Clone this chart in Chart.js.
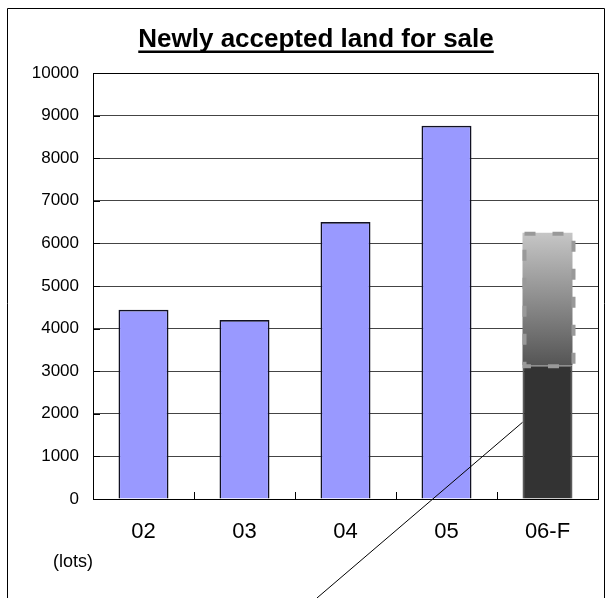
<!DOCTYPE html>
<html lang="en">
<head>
<meta charset="UTF-8">
<title>Newly accepted land for sale</title>
<script src="https://cdn.jsdelivr.net/npm/chart.js"></script>
<style>
    body { margin: 0; background: #fff; }
    .wrap { position: relative; width: 613px; height: 598px; }
</style>
</head>
<body>
<div class="wrap"><canvas id="landChart" width="613" height="598"></canvas></div>
<script>
const years = ['02', '03', '04', '05', '06-F'];
const actualLots = [4440, 4200, 6500, 8760, 3140];
const forecastLots = [0, 0, 0, 0, 3110];
const yMax = 10000;
const yStep = 1000;

const FONT = "Arial, 'Liberation Sans', sans-serif";

// frame, title, inward ticks, forecast outline and callout line
const decorations = {
    id: 'decorations',
    afterDraw(chart) {
        const { ctx, chartArea: a, scales: { x, y } } = chart;
        ctx.save();

        // outer frame (open at the bottom)
        ctx.strokeStyle = '#000';
        ctx.lineWidth = 1;
        ctx.beginPath();
        ctx.moveTo(7.5, 598);
        ctx.lineTo(7.5, 8.5);
        ctx.lineTo(604.5, 8.5);
        ctx.lineTo(604.5, 598);
        ctx.stroke();

        // right side of plot box
        ctx.beginPath();
        ctx.moveTo(Math.round(a.right) + 0.5, a.top);
        ctx.lineTo(Math.round(a.right) + 0.5, a.bottom);
        ctx.stroke();

        // title with underline
        const title = 'Newly accepted land for sale';
        ctx.font = 'bold 26px ' + FONT;
        ctx.fillStyle = '#000';
        ctx.textAlign = 'center';
        ctx.textBaseline = 'alphabetic';
        ctx.fillText(title, 316, 47);
        const tw = ctx.measureText(title).width;
        ctx.fillRect(316 - tw / 2, 50.5, tw, 2.5);

        // unit label
        ctx.font = '18px ' + FONT;
        ctx.textAlign = 'left';
        ctx.textBaseline = 'middle';
        ctx.fillText('(lots)', 53, 562);

        // inward tick marks
        ctx.beginPath();
        for (let v = yStep; v < yMax; v += yStep) {
            const py = Math.round(y.getPixelForValue(v)) + 0.5;
            ctx.moveTo(a.left, py);
            ctx.lineTo(a.left + 7, py);
        }
        for (let i = 0; i < years.length - 1; i++) {
            const px = Math.round((x.getPixelForValue(i) + x.getPixelForValue(i + 1)) / 2) + 0.5;
            ctx.moveTo(px, a.bottom);
            ctx.lineTo(px, a.bottom - 7);
        }
        ctx.stroke();

        // dashed outline around the forecast part
        const bar = chart.getDatasetMeta(1).data[years.length - 1];
        const left = bar.x - bar.width / 2;
        const right = bar.x + bar.width / 2;
        ctx.strokeStyle = '#999';
        ctx.lineWidth = 4;
        ctx.setLineDash([11, 17]);
        ctx.strokeRect(left + 2, bar.y + 1, right - left - 1, bar.base - bar.y);
        ctx.setLineDash([]);

        // callout line from the actual part
        const sx = left;
        const sy = y.getPixelForValue(1800);
        ctx.strokeStyle = '#000';
        ctx.lineWidth = 1;
        ctx.beginPath();
        ctx.moveTo(sx, sy);
        ctx.lineTo(sx - (598 - sy) * 1.17, 598);
        ctx.stroke();

        ctx.restore();
    }
};

const ctx = document.getElementById('landChart').getContext('2d');
new Chart(ctx, {
    type: 'bar',
    data: {
        labels: years,
        datasets: [{
            label: 'Actual',
            data: actualLots,
            backgroundColor: actualLots.map((v, i) => i === years.length - 1 ? '#333333' : '#9999ff'),
            borderColor: actualLots.map((v, i) => i === years.length - 1 ? '#5a5a5a' : '#111122'),
            borderWidth: 1.6,
            borderSkipped: 'bottom'
        }, {
            label: 'Forecast',
            data: forecastLots,
            backgroundColor: (c) => {
                const chart = c.chart;
                const ys = chart.scales.y;
                if (!chart.chartArea || !ys) return '#888';
                const i = years.length - 1;
                const top = ys.getPixelForValue(actualLots[i] + forecastLots[i]);
                const base = ys.getPixelForValue(actualLots[i]);
                const g = chart.ctx.createLinearGradient(0, top, 0, base);
                g.addColorStop(0, '#c6c6c6');
                g.addColorStop(1, '#555555');
                return g;
            },
            borderWidth: 0
        }]
    },
    options: {
        responsive: false,
        animation: false,
        layout: { padding: { left: 0, right: 15, top: 73, bottom: 0 } },
        plugins: {
            legend: { display: false },
            title: { display: false },
            tooltip: { enabled: false }
        },
        datasets: {
            bar: { categoryPercentage: 1, barPercentage: 0.495 }
        },
        scales: {
            x: {
                stacked: true,
                grid: { display: false, drawTicks: false },
                border: { color: '#000', width: 1 },
                ticks: { color: '#000', padding: 20, font: { family: FONT, size: 22 } },
                afterFit(scale) { scale.height = 99; }
            },
            y: {
                stacked: true,
                min: 0,
                max: yMax,
                grid: {
                    drawTicks: false,
                    color: (c) => c.tick && c.tick.value === yMax ? '#000' : '#444'
                },
                border: { color: '#000', width: 1 },
                ticks: {
                    stepSize: yStep,
                    color: '#000',
                    padding: 14,
                    font: { family: FONT, size: 17 },
                    callback: (v) => String(v)
                },
                afterFit(scale) { scale.width = 93; }
            }
        }
    },
    plugins: [decorations]
});
</script>
</body>
</html>
